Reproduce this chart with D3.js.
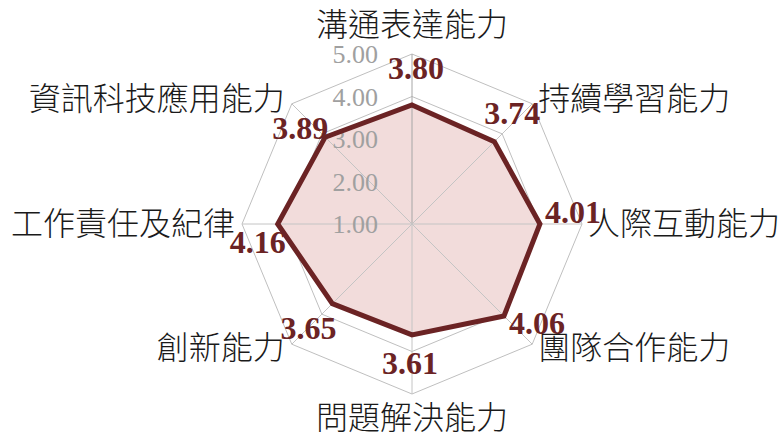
<!DOCTYPE html>
<html>
<head>
<meta charset="utf-8">
<script src="https://cdn.jsdelivr.net/npm/d3@7"></script>
<style>
  html, body { margin: 0; padding: 0; background: #fff; }
  #radar_chart_svg { width: 782px; height: 441px; }
  .cat-label { font-family: "Noto Sans CJK TC", "Noto Sans CJK SC", sans-serif; font-weight: 300; fill: #1a1a1a; }
  .tick-label { font-family: "Liberation Serif", "DejaVu Serif", serif; fill: #a0a0a0; }
  .val-label { font-family: "Liberation Serif", "DejaVu Serif", serif; font-weight: bold; fill: #6b2324; }
</style>
</head>
<body>
<div id="radar_chart_svg"></div>
<script>
// --- data ---
const categories = ["溝通表達能力", "持續學習能力", "人際互動能力", "團隊合作能力",
                    "問題解決能力", "創新能力", "工作責任及紀律", "資訊科技應用能力"];
const scores = [3.80, 3.74, 4.01, 4.06, 3.61, 3.65, 4.16, 3.89];
const ticks = [1, 2, 3, 4, 5];

// --- layout ---
const width = 782, height = 441;
const cx = 412, cy = 224, R = 170;
// value label nudges (dx, dy) from each vertex, one per axis
const labelNudge = [[4, -37], [18, -29], [33, -12], [33, 7], [-2, 28], [-24, 24], [-20, 18], [-25, -9]];

const svg = d3.select("#radar_chart_svg").append("svg")
    .attr("width", width)
    .attr("height", height);

const main = svg.append("g").attr("transform", `translate(${cx},${cy})`);

const rScale = d3.scaleLinear().domain([1, 5]).range([0, R]);
const angle = d3.scaleLinear().domain([0, categories.length]).range([0, 2 * Math.PI]);

function pt(i, v) {
    const a = angle(i);
    const r = rScale(v);
    return [r * Math.sin(a), -r * Math.cos(a)];
}

// --- rings ---
main.selectAll("polygon.ring")
    .data(ticks.filter(t => t > 1))
    .join("polygon")
    .attr("class", "ring")
    .attr("points", t => categories.map((_, i) => pt(i, t).join(",")).join(" "))
    .attr("fill", "none")
    .attr("stroke", "#bfbfbf")
    .attr("stroke-width", 1);

// --- filled area ---
const line = d3.line().curve(d3.curveLinearClosed);
const pts = scores.map((v, i) => pt(i, v));

main.append("path")
    .attr("d", line(pts))
    .attr("fill", "#f2dcdb")
    .attr("stroke", "none");

// --- spokes ---
main.selectAll("line.spoke")
    .data(categories)
    .join("line")
    .attr("class", "spoke")
    .attr("x1", 0).attr("y1", 0)
    .attr("x2", (_, i) => pt(i, 5)[0])
    .attr("y2", (_, i) => pt(i, 5)[1])
    .attr("stroke", (_, i) => i === 0 ? "#a6a6a6" : "#c4c4c4")
    .attr("stroke-width", 1);

// --- tick labels ---
main.selectAll("text.tick-label")
    .data(ticks)
    .join("text")
    .attr("class", "tick-label")
    .attr("x", -34)
    .attr("y", t => -rScale(t))
    .attr("dy", "0.35em")
    .attr("text-anchor", "end")
    .attr("font-size", 26)
    .text(t => d3.format(".2f")(t));

// --- outline ---
main.append("path")
    .attr("d", line(pts))
    .attr("fill", "none")
    .attr("stroke", "#6b2324")
    .attr("stroke-width", 5)
    .attr("stroke-linejoin", "miter");

// --- value labels ---
main.selectAll("text.val-label")
    .data(scores)
    .join("text")
    .attr("class", "val-label")
    .attr("x", (v, i) => pt(i, v)[0] + labelNudge[i][0])
    .attr("y", (v, i) => pt(i, v)[1] + labelNudge[i][1])
    .attr("dy", "0.35em")
    .attr("text-anchor", "middle")
    .attr("font-size", 32)
    .text(v => d3.format(".2f")(v));

// --- category labels ---
main.selectAll("text.cat-label")
    .data(categories)
    .join("text")
    .attr("class", "cat-label")
    .attr("font-size", 32)
    .attr("dy", "0.35em")
    .each(function (d, i) {
        const [x, y] = pt(i, 5);
        const a = angle(i);
        const sx = Math.round(Math.sin(a) * 100) / 100;
        const sy = -Math.round(Math.cos(a) * 100) / 100;
        let tx = x, ty = y, anchor = "middle";
        if (sx > 0) { tx = x + 6; anchor = "start"; }
        else if (sx < 0) { tx = x - 7; anchor = "end"; }
        if (sx === 0) ty = y + (sy < 0 ? -29 : 24);
        else if (sy < 0) ty = y - 5;
        else if (sy > 0) ty = y + 4;
        d3.select(this)
            .attr("x", tx)
            .attr("y", ty)
            .attr("text-anchor", anchor)
            .text(d);
    });
</script>
</body>
</html>
